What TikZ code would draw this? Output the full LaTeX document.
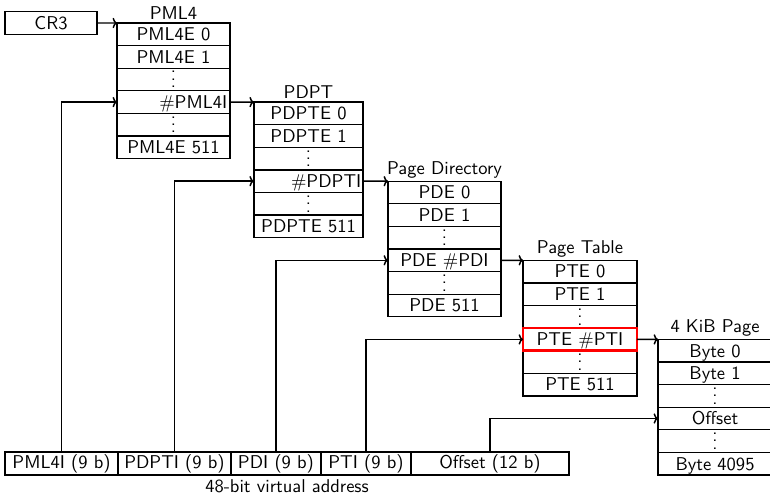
\documentclass[tikz,border=0pt]{standalone}
\usetikzlibrary{arrows.meta,positioning,calc}

\tikzset{
  entry/.style={draw, line width=0.7pt, outer sep=0pt, inner sep=0pt, minimum height=12.2pt,
    text height=7.9pt, text depth=1pt, font=\sffamily},
  tabletitle/.style={inner sep=1.5pt, font=\sffamily},
  addrfield/.style={draw, line width=0.7pt, outer sep=0pt, inner sep=0pt, minimum height=12.4pt,
    text height=7.9pt, text depth=2.5pt, font=\sffamily},
  link/.style={line width=0.8pt, -{To[length=2.4pt, width=5.6pt]}},
}
\newcommand{\rowdots}{\smash{\raisebox{-1pt}{\vdots}}}

\begin{document}
\begin{tikzpicture}[x=0.54pt, y=-0.54pt]
  \useasboundingbox (0,0) rectangle (770,494);
  \node[entry, minimum width=49.7pt] (cr3) at (51,23) {CR3};
  % the five tables, rows are 22.6 units high
  \foreach \lbl [count=\i] in {PML4E 0, PML4E 1, \rowdots, {\makebox[58pt][r]{\#PML4I}}, \rowdots, PML4E 511}
    \node[entry, minimum width=61pt] (pml4-\i) at (173.5,11.7+22.6*\i) {\lbl};
  \foreach \lbl [count=\i] in {PDPTE 0, PDPTE 1, \rowdots, {\makebox[57pt][r]{\#PDPTI}}, \rowdots, PDPTE 511}
    \node[entry, minimum width=59pt] (pdpt-\i) at (308.5,90.8+22.6*\i) {\lbl};
  \foreach \lbl [count=\i] in {PDE 0, PDE 1, \rowdots, PDE \#PDI, \rowdots, PDE 511}
    \node[entry, minimum width=61pt] (pd-\i) at (444.5,169.9+22.6*\i) {\lbl};
  \foreach \lbl [count=\i] in {PTE 0, PTE 1, \rowdots, PTE \#PTI, \rowdots, PTE 511}
    \node[entry, minimum width=61.5pt] (pt-\i) at (580,249+22.6*\i) {\lbl};
  \foreach \lbl [count=\i] in {Byte 0, Byte 1, \rowdots, Offset, \rowdots, Byte 4095}
    \node[entry, minimum width=61.5pt] (page-\i) at (715,328.1+22.6*\i) {\lbl};
  \node[tabletitle, above=0pt of pml4-1] (pml4-t) {PML4};
  \node[tabletitle, above=0pt of pdpt-1] (pdpt-t) {PDPT};
  \node[tabletitle, above=0pt of pd-1] (pd-t) {Page Directory};
  \node[tabletitle, above=0pt of pt-1] (pt-t) {Page Table};
  \node[tabletitle, above=0pt of page-1] (page-t) {4 KiB Page};
  \draw[red, line width=1.5pt] (pt-4.north west) rectangle (pt-4.south east);

  % the virtual address
  \node[addrfield, minimum width=61pt] (a-pml4) at (61.5,463.5) {PML4I (9 b)};
  \node[addrfield, minimum width=61pt, right=0pt of a-pml4] (a-pdpt) {PDPTI (9 b)};
  \node[addrfield, minimum width=48.6pt, right=0pt of a-pdpt] (a-pd) {PDI (9 b)};
  \node[addrfield, minimum width=48.6pt, right=0pt of a-pd] (a-pt) {PTI (9 b)};
  \node[addrfield, minimum width=85.3pt, right=0pt of a-pt] (a-off) {Offset (12 b)};
  \node[font=\sffamily, inner sep=0pt, below=2.5pt] (addr-t) at ($(a-pml4.south west)!0.5!(a-off.south east)$) {48-bit virtual address};

  \draw[link] (cr3.east) -- (pml4-1.north west);
  \draw[link] (pml4-4.east) -- (pdpt-1.north west);
  \draw[link] (pdpt-4.east) -- (pd-1.north west);
  \draw[link] (pd-4.east) -- (pt-1.north west);
  \draw[link] (pt-4.east) -- (page-1.north west);
  \draw[link] (a-pml4.north) |- (pml4-4.west);
  \draw[link] (a-pdpt.north) |- (pdpt-4.west);
  \draw[link] (a-pd.north) |- (pd-4.west);
  \draw[link] (a-pt.north) |- (pt-4.west);
  \draw[link] (a-off.north) |- (page-4.west);
\end{tikzpicture}
\end{document}
